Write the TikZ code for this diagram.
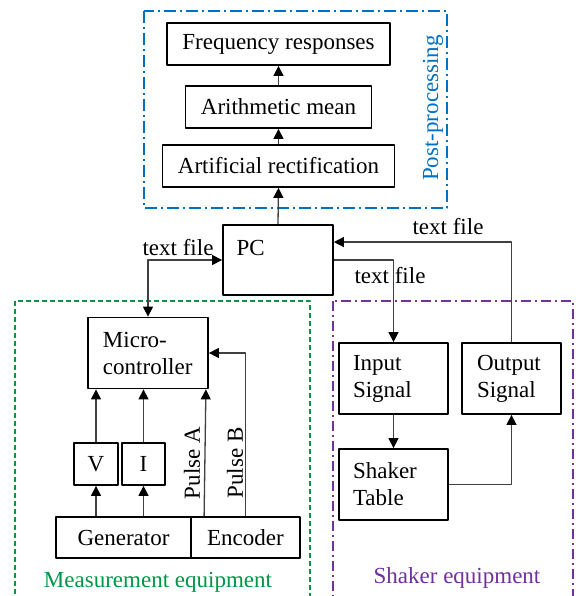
\documentclass[tikz,border=0pt]{standalone}
\usepackage{fontspec}
\setmainfont{Liberation Serif}
\usetikzlibrary{arrows.meta,calc}
\definecolor{ppblue}{RGB}{0,112,192}
\definecolor{megreen}{RGB}{0,150,70}
\definecolor{shpurple}{RGB}{112,48,160}

\begin{document}
\begin{tikzpicture}[x=0.5pt, y=-0.5pt, >={Triangle[length=5pt,width=5pt,color=black]}, font=\fontsize{11.5}{13.5}\selectfont, line join=round,
	box/.style={draw, line width=0.9pt, inner sep=0pt, minimum height=21pt},
	sidebox/.style={box, align=left, inner xsep=7pt, minimum height=35.5pt},
	link/.style={->, draw=black!75, line width=0.65pt}]
	\clip (0,0) rectangle (576,596);
	\draw[ppblue, line width=0.9pt, dash pattern=on 6pt off 2pt on 1pt off 2pt] (144,11) rectangle (447,208);
	\draw[megreen, line width=0.9pt, dash pattern=on 2.5pt off 1.5pt] (15,301) rectangle (310,610);
	\draw[shpurple, line width=0.9pt, dash pattern=on 5pt off 2pt on 1pt off 2pt] (333,301) rectangle (573,610);
	\node[box, minimum width=111.5pt] (freq) at (278.5,44) {Frequency responses};
	\node[box, minimum width=93pt] (mean) at (278.5,107) {Arithmetic mean};
	\node[box, minimum width=116pt] (rect) at (278.5,166) {Artificial rectification};
	\node[box, minimum width=55pt, minimum height=35pt, label={[anchor=north west, inner sep=0pt, xshift=7pt, yshift=-8pt]north west:PC}] (pc) at (278,260) {};
	\node[sidebox, inner xsep=7.5pt, text width=45pt] (micro) at (148,353) {Micro-\\controller};
	\node[box, minimum width=22pt] (volt) at (96,464) {V};
	\node[box, minimum width=21.5pt] (curr) at (143.5,464) {I};
	\node[box, minimum width=67.5pt, minimum height=20.5pt] (gen) at (123.5,537.5) {Generator};
	\node[box, minimum width=54.5pt, minimum height=20.5pt] (enc) at (245.5,537.5) {Encoder};
	\node[sidebox, text width=40.5pt] (input) at (393.5,378.5) {Input\\Signal};
	\node[sidebox, inner xsep=7.5pt, text width=34.5pt] (output) at (511.5,378.5) {Output\\Signal};
	\node[sidebox, text width=40.5pt] (shaker) at (393.5,484.5) {Shaker\\Table};
	\draw[link] (rect.north) -- (mean.south);
	\draw[link] (mean.north) -- (freq.south);
	\draw[link] (pc.north) -- (rect.south);
	\draw[link, <->] (micro.north) |- (pc.west);
	\draw[link] (pc.east) -| (input.north);
	\draw[link] (output.north) |- ($(pc.north east)!0.25!(pc.south east)$);
	\draw[link] (input) -- (shaker);
	\draw[link] (shaker.east) -| (output.south);
	\draw[link] (gen.north -| volt) -- (volt);
	\draw[link] (volt) -- (volt |- micro.south);
	\draw[link] (gen.north -| curr) -- (curr);
	\draw[link] (curr) -- (curr |- micro.south);
	\draw[link] ($(enc.north west)+(14,0)$) -- ($(micro.south east)+(-3,0)$);
	\draw[link] (enc.north) |- (micro.east);
	\node[rotate=90] (pulsea) at (192,463) {Pulse A};
	\node[rotate=90] (pulseb) at (235,463) {Pulse B};
	\node (filepc) at (178,248) {text file};
	\node (fileout) at (448,227) {text file};
	\node (filein) at (390,276) {text file};
	\node[ppblue, rotate=90] (post) at (433,108) {Post-processing};
	\node[megreen] (meas) at (158,582) {Measurement equipment};
	\node[shpurple] (shak) at (457,578) {Shaker equipment};
\end{tikzpicture}
\end{document}
